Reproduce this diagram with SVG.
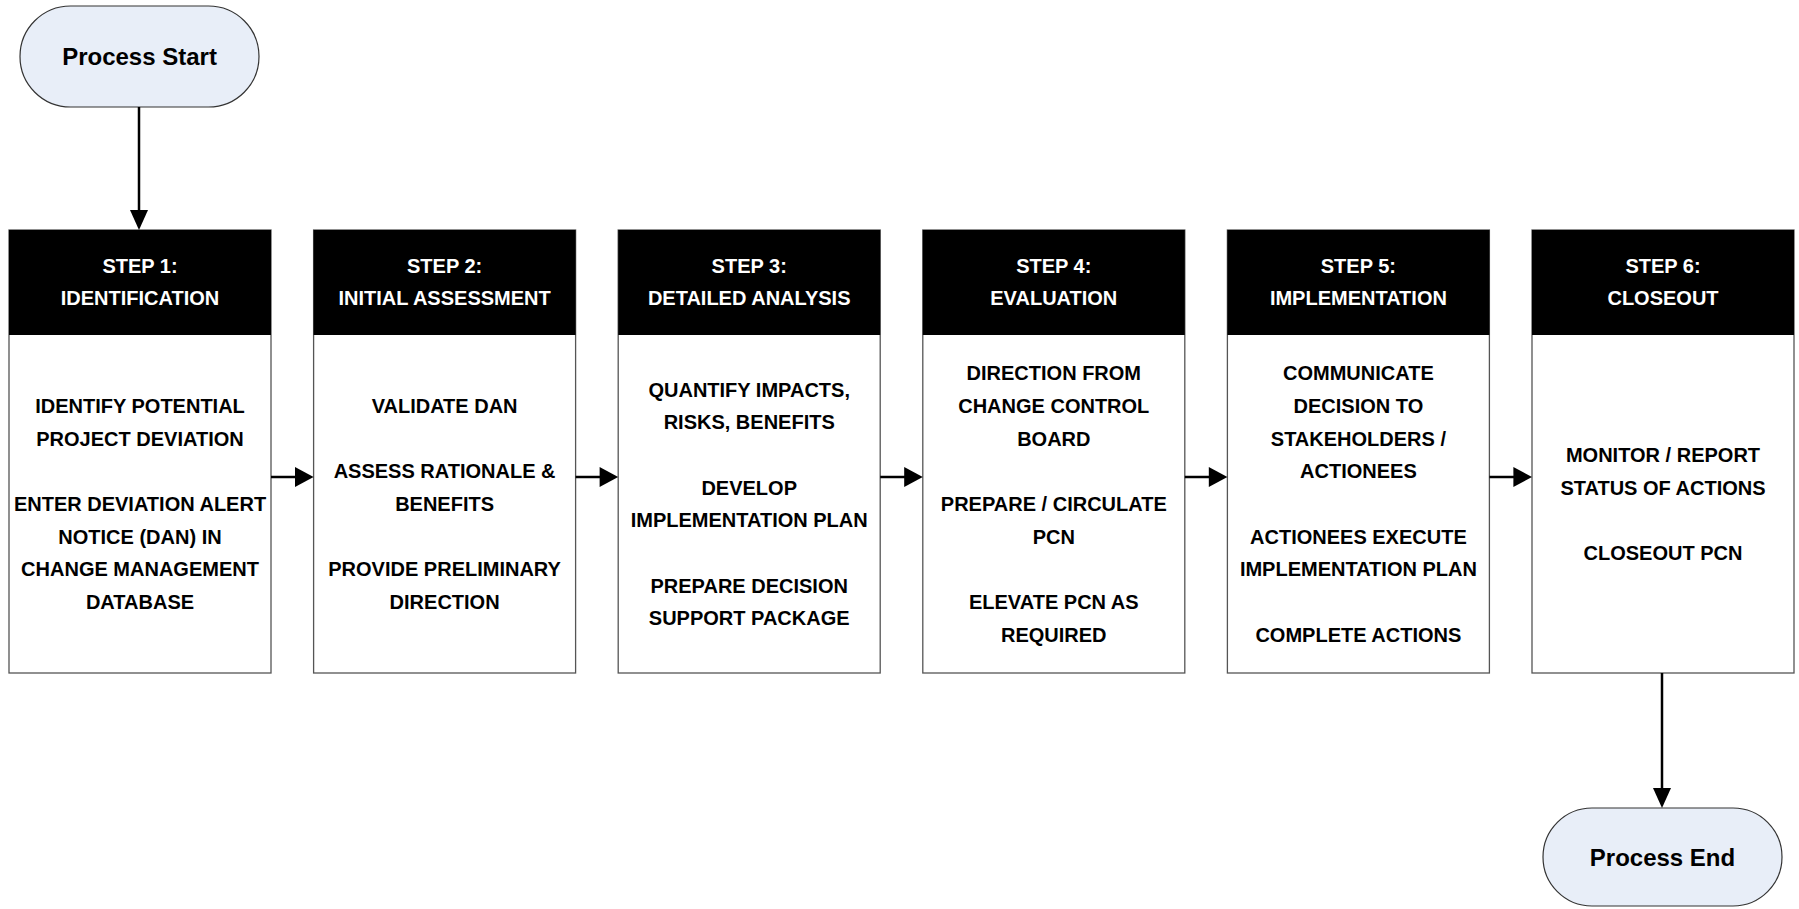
<svg xmlns="http://www.w3.org/2000/svg" width="1799" height="909" viewBox="0 0 1799 909">
<defs>
<style>
.t{font-family:"Liberation Sans",Arial,sans-serif;font-weight:bold;font-size:20px;text-anchor:middle;fill:#000}
.h{fill:#fff}
.p{font-size:24px}
.box{fill:#fff;stroke:#555;stroke-width:1.3}
.hdr{fill:#000}
.pill{fill:#e8eef8;stroke:#333;stroke-width:1.2}
.ln{stroke:#000;stroke-width:2.5;fill:none}
.ah{fill:#000}
</style>
</defs>
<rect width="1799" height="909" fill="#fff"/>
<g id="start"><rect class="pill" x="20" y="6" width="239" height="101" rx="50.5"/><text class="t p" x="139.5" y="65">Process Start</text></g>
<g id="step1"><rect class="box" x="9" y="230" width="262" height="443"/><rect class="hdr" x="9" y="230" width="262" height="105"/>
<text class="t h" x="140" y="273">STEP 1:</text><text class="t h" x="140" y="305">IDENTIFICATION</text>
<text class="t" x="140" y="413">IDENTIFY POTENTIAL</text><text class="t" x="140" y="446">PROJECT DEVIATION</text>
<text class="t" x="140" y="511">ENTER DEVIATION ALERT</text><text class="t" x="140" y="544">NOTICE (DAN) IN</text><text class="t" x="140" y="576">CHANGE MANAGEMENT</text><text class="t" x="140" y="609">DATABASE</text></g>
<g id="step2"><rect class="box" x="313.6" y="230" width="262" height="443"/><rect class="hdr" x="313.6" y="230" width="262" height="105"/>
<text class="t h" x="444.6" y="273">STEP 2:</text><text class="t h" x="444.6" y="305">INITIAL ASSESSMENT</text>
<text class="t" x="444.6" y="413">VALIDATE DAN</text>
<text class="t" x="444.6" y="478">ASSESS RATIONALE &amp;</text><text class="t" x="444.6" y="511">BENEFITS</text>
<text class="t" x="444.6" y="576">PROVIDE PRELIMINARY</text><text class="t" x="444.6" y="609">DIRECTION</text></g>
<g id="step3"><rect class="box" x="618.2" y="230" width="262" height="443"/><rect class="hdr" x="618.2" y="230" width="262" height="105"/>
<text class="t h" x="749.2" y="273">STEP 3:</text><text class="t h" x="749.2" y="305">DETAILED ANALYSIS</text>
<text class="t" x="749.2" y="397">QUANTIFY IMPACTS,</text><text class="t" x="749.2" y="429">RISKS, BENEFITS</text>
<text class="t" x="749.2" y="495">DEVELOP</text><text class="t" x="749.2" y="527">IMPLEMENTATION PLAN</text>
<text class="t" x="749.2" y="593">PREPARE DECISION</text><text class="t" x="749.2" y="625">SUPPORT PACKAGE</text></g>
<g id="step4"><rect class="box" x="922.8" y="230" width="262" height="443"/><rect class="hdr" x="922.8" y="230" width="262" height="105"/>
<text class="t h" x="1053.8" y="273">STEP 4:</text><text class="t h" x="1053.8" y="305">EVALUATION</text>
<text class="t" x="1053.8" y="380">DIRECTION FROM</text><text class="t" x="1053.8" y="413">CHANGE CONTROL</text><text class="t" x="1053.8" y="446">BOARD</text>
<text class="t" x="1053.8" y="511">PREPARE / CIRCULATE</text><text class="t" x="1053.8" y="544">PCN</text>
<text class="t" x="1053.8" y="609">ELEVATE PCN AS</text><text class="t" x="1053.8" y="642">REQUIRED</text></g>
<g id="step5"><rect class="box" x="1227.4" y="230" width="262" height="443"/><rect class="hdr" x="1227.4" y="230" width="262" height="105"/>
<text class="t h" x="1358.4" y="273">STEP 5:</text><text class="t h" x="1358.4" y="305">IMPLEMENTATION</text>
<text class="t" x="1358.4" y="380">COMMUNICATE</text><text class="t" x="1358.4" y="413">DECISION TO</text><text class="t" x="1358.4" y="446">STAKEHOLDERS /</text><text class="t" x="1358.4" y="478">ACTIONEES</text>
<text class="t" x="1358.4" y="544">ACTIONEES EXECUTE</text><text class="t" x="1358.4" y="576">IMPLEMENTATION PLAN</text>
<text class="t" x="1358.4" y="642">COMPLETE ACTIONS</text></g>
<g id="step6"><rect class="box" x="1532" y="230" width="262" height="443"/><rect class="hdr" x="1532" y="230" width="262" height="105"/>
<text class="t h" x="1663" y="273">STEP 6:</text><text class="t h" x="1663" y="305">CLOSEOUT</text>
<text class="t" x="1663" y="462">MONITOR / REPORT</text><text class="t" x="1663" y="495">STATUS OF ACTIONS</text>
<text class="t" x="1663" y="560">CLOSEOUT PCN</text></g>
<g id="end"><rect class="pill" x="1543" y="808" width="239" height="98" rx="49"/><text class="t p" x="1662.5" y="866">Process End</text></g>
<g id="connectors">
<line class="ln" x1="139" y1="107" x2="139" y2="212"/><polygon class="ah" points="130,210 148,210 139,230"/>
<line class="ln" x1="271" y1="477" x2="297" y2="477"/><polygon class="ah" points="295,467 295,487 313.6,477"/>
<line class="ln" x1="575.6" y1="477" x2="601.6" y2="477"/><polygon class="ah" points="599.6,467 599.6,487 618.2,477"/>
<line class="ln" x1="880.2" y1="477" x2="906.2" y2="477"/><polygon class="ah" points="904.2,467 904.2,487 922.8,477"/>
<line class="ln" x1="1184.8" y1="477" x2="1210.8" y2="477"/><polygon class="ah" points="1208.8,467 1208.8,487 1227.4,477"/>
<line class="ln" x1="1489.4" y1="477" x2="1515.4" y2="477"/><polygon class="ah" points="1513.4,467 1513.4,487 1532,477"/>
<line class="ln" x1="1662" y1="673" x2="1662" y2="790"/><polygon class="ah" points="1653,788 1671,788 1662,808"/>
</g>
</svg>
